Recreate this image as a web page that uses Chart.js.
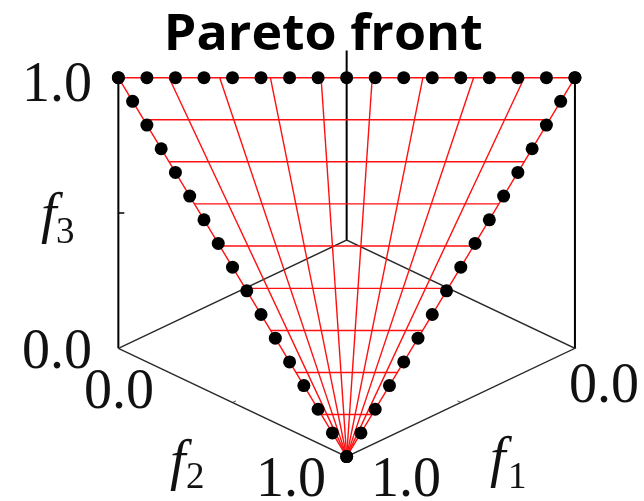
<!DOCTYPE html>
<html>
  <head>
    <meta charset="UTF-8" />
    <script src="https://cdn.jsdelivr.net/npm/chart.js"></script>
    <style>
      body {
        margin: 0;
        background: #fff;
      }
      #wrap {
        position: relative;
        width: 644px;
        height: 501px;
      }
    </style>
  </head>
  <body>
    <div id="wrap"><canvas id="front"></canvas></div>
    <script>
      // Front is the plane f1 + f2 + f3 = 2 inside the unit cube.
      // Sample positions along its three edges (17 points each).
      const topF2 = [0, 0.0625, 0.125, 0.1875, 0.25, 0.3125, 0.375, 0.4375, 0.5,
        0.5625, 0.625, 0.6875, 0.75, 0.8125, 0.875, 0.9375, 1]; // f3 = 1
      const leftF3 = [1, 0.9375, 0.875, 0.8125, 0.75, 0.6875, 0.625, 0.5625, 0.5,
        0.4375, 0.375, 0.3125, 0.25, 0.1875, 0.125, 0.0625, 0]; // f1 = 1
      const rightF3 = [1, 0.9375, 0.875, 0.8125, 0.75, 0.6875, 0.625, 0.5625, 0.5,
        0.4375, 0.375, 0.3125, 0.25, 0.1875, 0.125, 0.0625, 0]; // f2 = 1

      // surface mesh: fan lines leave the top edge at these f2 values,
      // level lines sit at these f3 values
      const fanF2 = [0, 0.111, 0.222, 0.333, 0.444, 0.556, 0.667, 0.778, 0.889, 1];
      const levelF3 = [1, 0.889, 0.778, 0.667, 0.556, 0.444, 0.333, 0.222, 0.111];

      const tickLabels = ["0.0", "1.0"];
      const axisNames = ["f", "f", "f"];
      const axisIndex = ["1", "2", "3"];
      const titleText = "Pareto front";

      // oblique view: f1 and f2 run down-left / down-right, f3 straight up
      const project = ([f1, f2, f3]) => ({ x: f2 - f1, y: f3 - 0.4 * (f1 + f2) });

      const topEdge = topF2.map((f2) => [1 - f2, f2, 1]);
      const leftEdge = leftF3.map((f3) => [1, 1 - f3, f3]);
      const rightEdge = rightF3.map((f3) => [1 - f3, 1, f3]);
      const apex = [1, 1, 0];

      const fanLines = fanF2.map((s) => [[1 - s, s, 1], apex]);
      const levelLines = levelF3.map((z) => [[1, 1 - z, z], [1 - z, 1, z]]);

      const line = (pts, color, width, order) => ({
        data: pts.map(project),
        showLine: true,
        borderColor: color,
        borderWidth: width,
        pointRadius: 0,
        order: order,
      });

      const datasets = [
        {
          data: [...topEdge, ...leftEdge, ...rightEdge].map(project),
          showLine: false,
          pointRadius: 6.5,
          pointBackgroundColor: "#000",
          pointBorderWidth: 0,
          order: 0,
        },
        ...fanLines.map((l) => line(l, "#ff1010", 1.4, 1)),
        ...levelLines.map((l) => line(l, "#ff1010", 1.4, 1)),
        // box: floor rhombus, vertical edges, ticks at 0.5
        line([[1, 0, 0], [0, 0, 0], [0, 1, 0], [1, 1, 0], [1, 0, 0]], "#2a2a2a", 1.4, 2),
        line([[1, 0, 0], [1, 0, 1]], "#000", 2, 2),
        line([[0, 1, 0], [0, 1, 1]], "#000", 2, 2),
        line([[0, 0, 0], [0, 0, 0.7]], "#000", 2, 2),
        line([[1, 0, 0.5], [0.987, 0.013, 0.5]], "#000", 1.5, 2),
        line([[1, 0.5, 0], [0.985, 0.5, 0]], "#555", 1, 2),
        line([[0.5, 1, 0], [0.5, 0.985, 0]], "#555", 1, 2),
      ];

      // text placed around the box: tick values, axis names, title
      const tickText = [
        { text: tickLabels[1], x: 92, y: 101, align: "right" },
        { text: tickLabels[0], x: 92, y: 368, align: "right" },
        { text: tickLabels[0], x: 84, y: 408, align: "left" },
        { text: tickLabels[1], x: 256, y: 496, align: "left" },
        { text: tickLabels[1], x: 371, y: 496, align: "left" },
        { text: tickLabels[0], x: 569, y: 402, align: "left" },
      ];
      const nameText = [
        { i: 2, x: 41, y: 232, sx: 56, sy: 243 },
        { i: 1, x: 170, y: 479, sx: 186, sy: 488 },
        { i: 0, x: 490, y: 476, sx: 508, sy: 488 },
      ];

      const serif = '"Liberation Serif", "Times New Roman", serif';

      const labelsPlugin = {
        id: "labels",
        afterDraw: (chart) => {
          const ctx = chart.ctx;
          ctx.save();
          ctx.fillStyle = "#111";
          ctx.textBaseline = "alphabetic";
          ctx.font = "56px " + serif;
          tickText.forEach((t) => {
            ctx.textAlign = t.align;
            ctx.fillText(t.text, t.x, t.y);
          });
          ctx.textAlign = "left";
          nameText.forEach((n) => {
            ctx.font = "italic 56px " + serif;
            ctx.fillText(axisNames[n.i], n.x, n.y);
            ctx.font = "37px " + serif;
            ctx.fillText(axisIndex[n.i], n.sx, n.sy);
          });

          // title stretched to its box
          ctx.fillStyle = "#000";
          ctx.font = 'bold 50px "Open Sans"';
          const m = ctx.measureText(titleText);
          const w = m.actualBoundingBoxLeft + m.actualBoundingBoxRight;
          ctx.translate(168, 50);
          ctx.scale(314 / w, 1);
          ctx.fillText(titleText, m.actualBoundingBoxLeft, 0);
          ctx.restore();
        },
      };

      new Chart(document.getElementById("front"), {
        type: "scatter",
        data: { datasets: datasets },
        options: {
          animation: false,
          responsive: true,
          maintainAspectRatio: false,
          events: [],
          layout: { padding: 0 },
          plugins: { legend: { display: false }, tooltip: { enabled: false } },
          scales: {
            x: { type: "linear", display: false, min: -1.49, max: 1.274 },
            y: { type: "linear", display: false, min: -0.94, max: 0.863 },
          },
        },
        plugins: [labelsPlugin],
      });
    </script>
  </body>
</html>
